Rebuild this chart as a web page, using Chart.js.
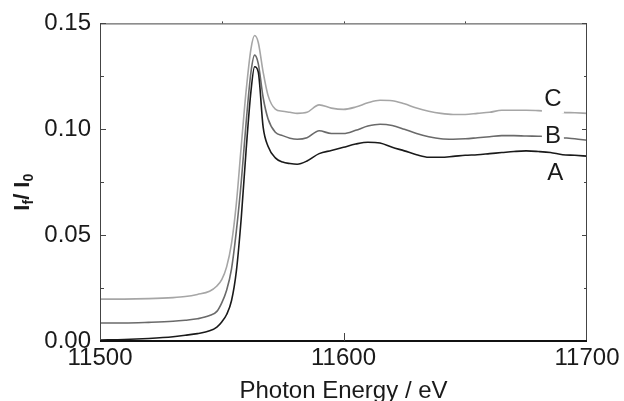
<!DOCTYPE html>
<html>
<head>
<meta charset="utf-8">
<script src="https://cdn.jsdelivr.net/npm/chart.js@4"></script>
<style>
  html, body { margin: 0; padding: 0; background: #fff; }
  #wrap { width: 624px; height: 401px; position: relative; }
</style>
</head>
<body>
<div id="wrap"><canvas id="c" width="624" height="401"></canvas></div>
<script>
// ---- data ----
const energy = [11500, 11510, 11520, 11530, 11535, 11540, 11545, 11548, 11550, 11552,
  11554, 11556, 11558, 11560, 11562, 11563.5, 11565, 11567, 11569, 11572,
  11575, 11578, 11581, 11585, 11590, 11595, 11600, 11605, 11610, 11615,
  11620, 11625, 11630, 11635, 11640, 11645, 11650, 11655, 11660, 11665,
  11670, 11675, 11680, 11685, 11690, 11695, 11700];

const seriesA = [0.0005, 0.0007, 0.0012, 0.0020, 0.0027, 0.0035, 0.0048, 0.0066, 0.0090, 0.0125,
  0.0190, 0.0330, 0.0580, 0.0900, 0.1180, 0.1295, 0.1270, 0.1010, 0.0920, 0.0865,
  0.0845, 0.0838, 0.0835, 0.0850, 0.0885, 0.0900, 0.0915, 0.0930, 0.0939, 0.0935,
  0.0915, 0.0898, 0.0880, 0.0868, 0.0868, 0.0872, 0.0877, 0.0880, 0.0885, 0.0890,
  0.0895, 0.0898, 0.0895, 0.0890, 0.0880, 0.0877, 0.0873];

const seriesB = [0.0085, 0.0085, 0.0088, 0.0093, 0.0098, 0.0105, 0.0120, 0.0140, 0.0180, 0.0240,
  0.0340, 0.0520, 0.0750, 0.1030, 0.1270, 0.1350, 0.1310, 0.1150, 0.1050, 0.0986,
  0.0970, 0.0958, 0.0953, 0.0960, 0.0993, 0.0980, 0.0980, 0.0995, 0.1015, 0.1024,
  0.1018, 0.1000, 0.0980, 0.0965, 0.0955, 0.0953, 0.0955, 0.0960, 0.0965, 0.0970,
  0.0970, 0.0968, 0.0967, 0.0965, 0.0960, 0.0955, 0.0948];

const seriesC = [0.0198, 0.0198, 0.0200, 0.0205, 0.0210, 0.0220, 0.0235, 0.0260, 0.0290, 0.0350,
  0.0460, 0.0650, 0.0920, 0.1180, 0.1380, 0.1443, 0.1410, 0.1270, 0.1160, 0.1095,
  0.1085, 0.1080, 0.1075, 0.1080, 0.1115, 0.1100, 0.1094, 0.1105, 0.1125, 0.1137,
  0.1135, 0.1120, 0.1100, 0.1085, 0.1075, 0.1070, 0.1070, 0.1075, 0.1080, 0.1090,
  0.1090, 0.1090, 0.1088, 0.1085, 0.1080, 0.1078, 0.1075];

const seriesNames = ['A', 'B', 'C'];
const xTickValues = [11500, 11600, 11700];
const yTickValues = [0.00, 0.05, 0.10, 0.15];
const xTitle = 'Photon Energy / eV';
// label anchor points (energy, value) for the curve names
const labelAt = { A: [11687, 0.0797], B: [11686, 0.0972], C: [11686, 0.1146] };

const colors = { A: '#1a1a1a', B: '#6a6a6a', C: '#a6a6a6' };
const FONT = '"Liberation Sans", Arial, Helvetica, sans-serif';

function pts(vals) { return energy.map((e, i) => ({ x: e, y: vals[i] })); }
const valuesByName = { A: seriesA, B: seriesB, C: seriesC };

const framePlugin = {
  id: 'frameTicks',
  afterDatasetsDraw(chart) {
    const ctx = chart.ctx;
    const a = chart.chartArea;
    const xs = chart.scales.x, ys = chart.scales.y;
    ctx.save();

    // curve labels with white masks
    ctx.font = '24px ' + FONT;
    ctx.textAlign = 'center';
    ctx.textBaseline = 'middle';
    seriesNames.forEach(n => {
      const px = xs.getPixelForValue(labelAt[n][0]);
      const py = ys.getPixelForValue(labelAt[n][1]);
      if (n !== 'A') {
        ctx.fillStyle = '#fff';
        ctx.fillRect(px - 11, py - 12, 22, 27);
      }
      ctx.fillStyle = '#1a1a1a';
      ctx.fillText(n, px, py + 1);
    });

    // frame
    ctx.lineWidth = 1;
    ctx.strokeStyle = '#444';
    ctx.beginPath();
    ctx.moveTo(a.left + 0.5, a.bottom);
    ctx.lineTo(a.left + 0.5, a.top + 0.5);
    ctx.lineTo(a.right - 0.5, a.top + 0.5);
    ctx.lineTo(a.right - 0.5, a.bottom);
    ctx.stroke();
    ctx.strokeStyle = '#111';
    ctx.lineWidth = 2.2;
    ctx.beginPath();
    ctx.moveTo(a.left, a.bottom);
    ctx.lineTo(a.right, a.bottom);
    ctx.stroke();

    // y ticks (inward, left and right)
    ctx.lineWidth = 1;
    ctx.strokeStyle = '#444';
    for (let k = 1; k <= 6; k++) {
      const v = k * 0.025;
      const py = Math.round(ys.getPixelForValue(v)) + 0.5;
      const len = (k % 2 === 0) ? 6 : 4;
      ctx.beginPath();
      ctx.moveTo(a.left, py); ctx.lineTo(a.left + len, py);
      ctx.moveTo(a.right, py); ctx.lineTo(a.right - len + 1, py);
      ctx.stroke();
    }
    // x ticks
    [11550, 11600, 11650].forEach(e => {
      const px = Math.round(xs.getPixelForValue(e)) + 0.5;
      ctx.beginPath();
      ctx.moveTo(px, a.top); ctx.lineTo(px, a.top - 2);
      ctx.stroke();
    });
    {
      const px = Math.round(xs.getPixelForValue(11600)) + 0.5;
      ctx.beginPath();
      ctx.moveTo(px, a.bottom); ctx.lineTo(px, a.bottom - 8);
      ctx.stroke();
    }

    // y title: I_f / I_0 (rotated)
    ctx.translate(29, (a.top + a.bottom) / 2 + 10);
    ctx.rotate(-Math.PI / 2);
    ctx.fillStyle = '#1a1a1a';
    ctx.textAlign = 'left';
    ctx.textBaseline = 'alphabetic';
    const big = 'bold 22px ' + FONT, small = 'bold 14px ' + FONT;
    const parts = [['I', big, 0], ['f', small, 4], ['/ I', big, 0], ['0', small, 4]];
    let total = 0;
    parts.forEach(p => { ctx.font = p[1]; total += ctx.measureText(p[0]).width; });
    let cx = -total / 2;
    parts.forEach(p => {
      ctx.font = p[1];
      ctx.fillText(p[0], cx, p[2]);
      cx += ctx.measureText(p[0]).width;
    });
    ctx.restore();
  }
};

new Chart(document.getElementById('c'), {
  type: 'line',
  data: {
    datasets: seriesNames.map(n => ({
      label: n,
      data: pts(valuesByName[n]),
      borderColor: colors[n],
      borderWidth: 1.6,
      pointRadius: 0,
      tension: 0.35,
      cubicInterpolationMode: 'monotone',
      fill: false
    }))
  },
  options: {
    responsive: false,
    animation: false,
    devicePixelRatio: 1,
    layout: { padding: { top: 23, right: 37, left: 0, bottom: 0 } },
    plugins: { legend: { display: false }, tooltip: { enabled: false } },
    scales: {
      x: {
        type: 'linear',
        min: 11500, max: 11700,
        afterBuildTicks: s => { s.ticks = xTickValues.map(v => ({ value: v })); },
        afterFit: s => { s.height = 60; },
        grid: { display: false, drawTicks: false },
        border: { display: false },
        ticks: { color: '#1a1a1a', font: { family: FONT, size: 24 }, padding: 3, maxRotation: 0, autoSkip: false,
          callback: v => String(v) },
        title: { display: true, text: xTitle, color: '#1a1a1a', font: { family: FONT, size: 24 }, padding: { top: 0, bottom: -5 } }
      },
      y: {
        type: 'linear',
        min: 0, max: 0.15,
        afterBuildTicks: s => { s.ticks = yTickValues.map(v => ({ value: v })); },
        afterFit: s => { s.width = 100; },
        grid: { display: false, drawTicks: false },
        border: { display: false },
        ticks: { color: '#1a1a1a', font: { family: FONT, size: 24 }, padding: 9,
          callback: v => Number(v).toFixed(2) }
      }
    }
  },
  plugins: [framePlugin]
});
</script>
</body>
</html>
